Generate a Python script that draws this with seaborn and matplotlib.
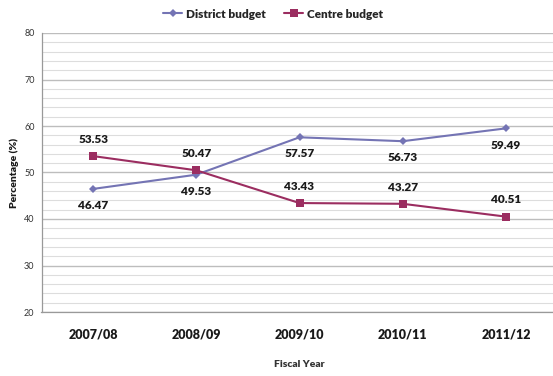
import matplotlib
matplotlib.use("Agg")
import matplotlib.pyplot as plt
import seaborn as sns
import pandas as pd
import numpy as np

years = ["2007/08", "2008/09", "2009/10", "2010/11", "2011/12"]
district = [46.47, 49.53, 57.57, 56.73, 59.49]
centre = [53.53, 50.47, 43.43, 43.27, 40.51]
series_names = ["District budget", "Centre budget"]
colors = ["#7474B4", "#9B2D60"]

sns.set_style("white")
plt.rcParams['font.family'] = ['Lato', 'DejaVu Sans']
W = "heavy"

df = pd.DataFrame({
    "Fiscal Year": years * 2,
    "Percentage": district + centre,
    "Series": [series_names[0]] * len(years) + [series_names[1]] * len(years),
})
df["x"] = list(range(len(years))) * 2

fig = plt.figure(figsize=(5.53, 3.76), dpi=100)
ax = fig.add_axes([41.5 / 553, 1 - 312 / 376, 516 / 553, (312 - 33) / 376])

sns.lineplot(data=df, x="x", y="Percentage", hue="Series", style="Series",
             markers={series_names[0]: "D", series_names[1]: "s"},
             dashes=False, palette=dict(zip(series_names, colors)),
             markersize=5, linewidth=1.5, markeredgewidth=0, ax=ax, legend=False)
lines = ax.get_lines()
if len(lines) >= 2:
    lines[0].set_markersize(4.5)
    lines[1].set_markersize(6)

ax.set_xlim(-0.5, len(years) - 0.5)
ax.set_ylim(20, 80)
ax.set_yticks(np.arange(20, 81, 10))
ax.set_yticks(np.arange(20, 81, 2), minor=True)
ax.grid(which="major", axis="y", color="#BDBDBD", linewidth=1.0)
ax.grid(which="minor", axis="y", color="#DDDDDD", linewidth=0.8)
ax.set_axisbelow(True)
ax.set_xticks(range(len(years)))
ax.set_xticklabels(years, fontsize=9, fontweight=W, color="#1a1a1a")
ax.set_xticks(np.arange(-0.5, len(years), 1), minor=True)
ax.tick_params(axis="x", which="major", length=0, pad=12)
ax.tick_params(axis="x", which="minor", length=3, color="#AAAAAA")
ax.tick_params(axis="y", which="major", length=3, color="#AAAAAA", labelsize=6.5, labelcolor="#333333", pad=2)
ax.tick_params(axis="y", which="minor", length=0)
for s in ["top", "right"]:
    ax.spines[s].set_visible(False)
for s in ["left", "bottom"]:
    ax.spines[s].set_color("#999999")
    ax.spines[s].set_linewidth(0.9)

ax.set_xlabel("Fiscal Year", fontsize=7.5, fontweight=W, color="#333333", labelpad=14)
ax.set_ylabel("Percentage (%)", fontsize=7.5, fontweight=W, color="#1a1a1a")
ax.yaxis.set_label_coords(-(41.5 - 19) / 516, 0.5)

for i, v in enumerate(district):
    ax.annotate(f"{v:.2f}", (i, v), xytext=(0, -12), textcoords="offset points",
                ha="center", va="center", fontsize=8.5, fontweight=W, color="#1a1a1a")
for i, v in enumerate(centre):
    ax.annotate(f"{v:.2f}", (i, v), xytext=(0, 12), textcoords="offset points",
                ha="center", va="center", fontsize=8.5, fontweight=W, color="#1a1a1a")

from matplotlib.lines import Line2D
handles = [Line2D([], [], color=colors[0], marker="D", markersize=4, linewidth=1.5, markeredgewidth=0),
           Line2D([], [], color=colors[1], marker="s", markersize=5.5, linewidth=1.5, markeredgewidth=0)]
fig.legend(handles, series_names, loc="center", bbox_to_anchor=(273 / 553, 1 - 14 / 376),
           ncol=2, frameon=False, prop={"weight": W, "size": 8.5},
           handlelength=1.6, handletextpad=0.3, columnspacing=1.6)

fig.savefig("out.png", dpi=100)
